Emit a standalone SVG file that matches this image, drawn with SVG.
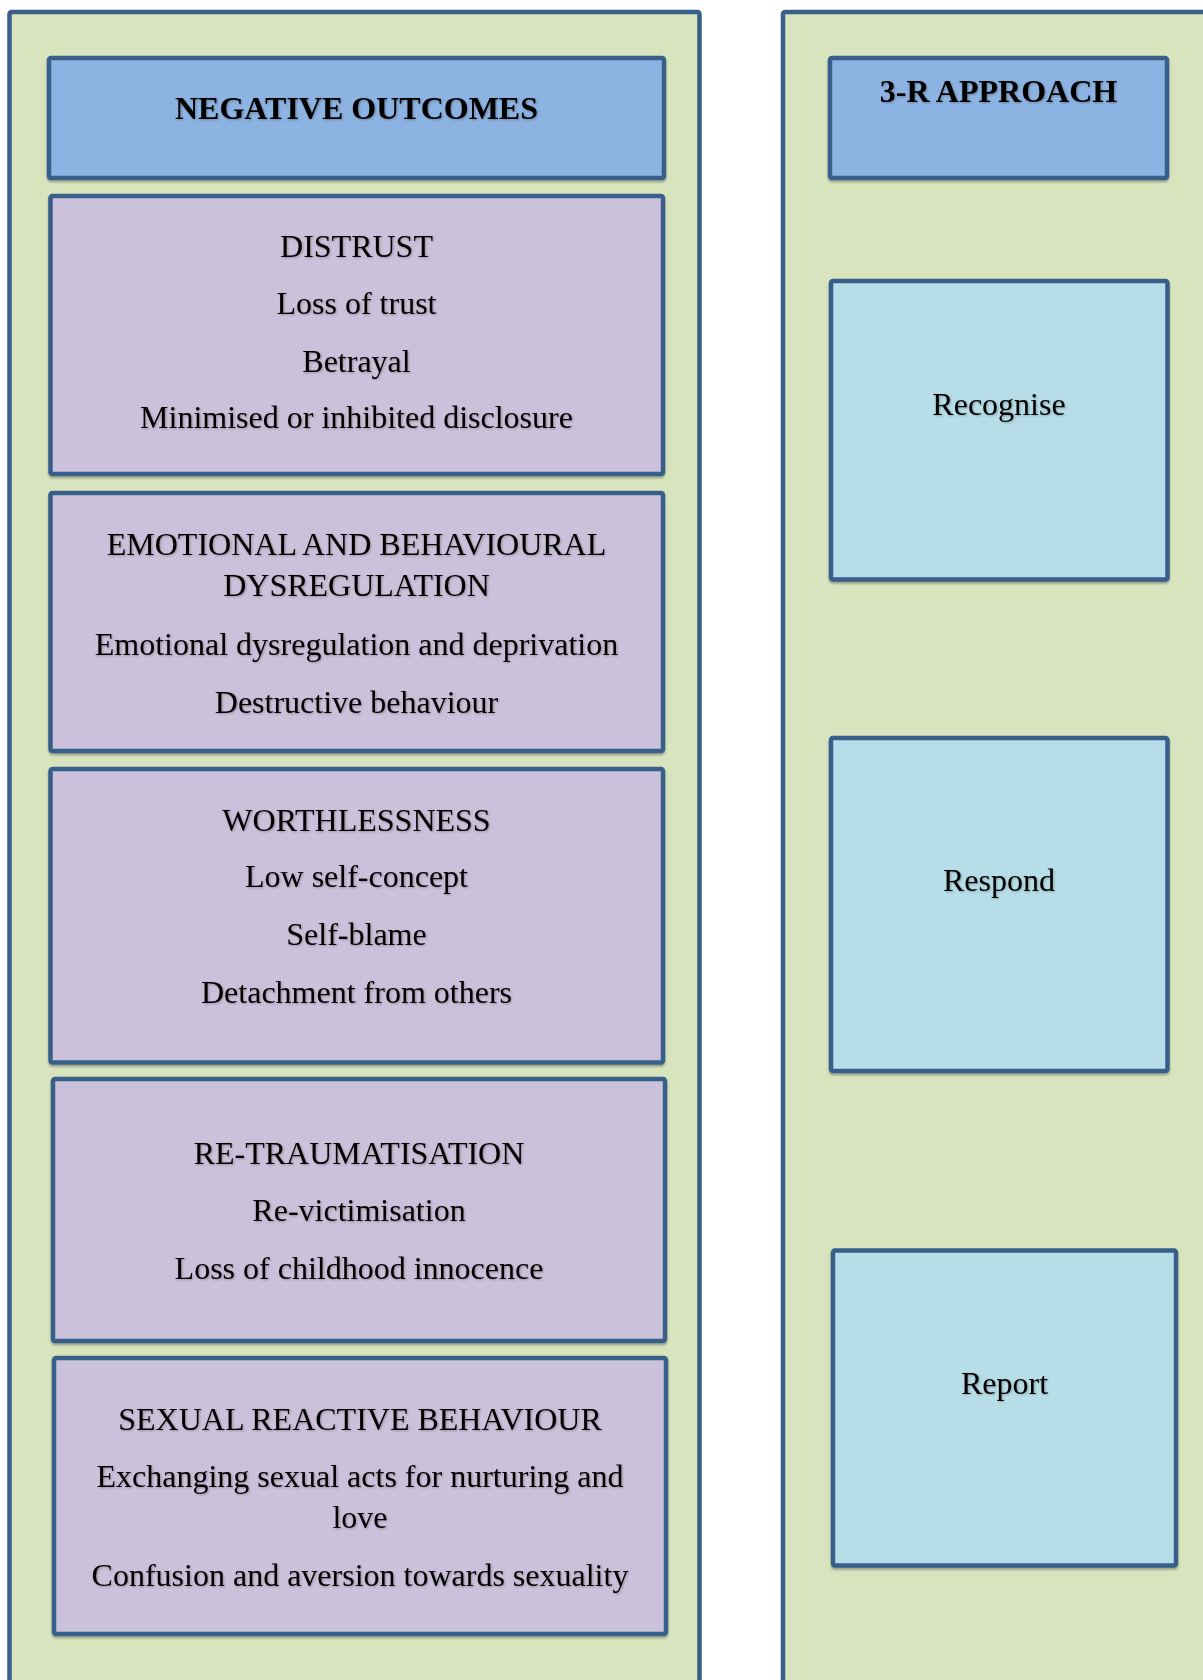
<svg xmlns="http://www.w3.org/2000/svg" width="1203" height="1680" viewBox="0 0 1203 1680">
  <defs>
    <filter id="boxShadow" x="-5%" y="-5%" width="110%" height="110%">
      <feDropShadow dx="0" dy="2" stdDeviation="1.2" flood-color="#000" flood-opacity="0.3"/>
    </filter>
    <filter id="textShadow" x="-5%" y="-20%" width="110%" height="140%">
      <feDropShadow dx="1" dy="1" stdDeviation="0.8" flood-color="#000" flood-opacity="0.28"/>
    </filter>
  </defs>
  <style>
    .panel { fill: #D7E4BD; stroke: #395E8A; stroke-width: 4.5; }
    .head { fill: #8DB3E2; stroke: #395E8A; stroke-width: 4.5; filter: url(#boxShadow); }
    .item { fill: #CCC1DA; stroke: #395E8A; stroke-width: 4.5; filter: url(#boxShadow); }
    .step { fill: #B7DEE8; stroke: #395E8A; stroke-width: 4.5; filter: url(#boxShadow); }
    text { font-family: "Liberation Serif", "Times New Roman", serif; font-size: 32px; fill: #000; text-anchor: middle; filter: url(#textShadow); }
    .title { font-weight: bold; }
  </style>

  <rect width="1203" height="1680" fill="#fff"/>

  <!-- background columns -->
  <g id="panel-left">
    <rect class="panel" x="9.5" y="12" width="690" height="1700" rx="2"/>
  </g>
  <g id="panel-right">
    <rect class="panel" x="783" y="12" width="500" height="1700" rx="2"/>
  </g>

  <!-- left column: outcomes -->
  <g id="negative-outcomes">
    <rect class="head" x="49" y="58" width="615" height="120" rx="2"/>
    <text class="title" x="356.5" y="119">NEGATIVE OUTCOMES</text>
  </g>

  <g id="distrust">
    <rect class="item" x="50.5" y="196" width="612.5" height="278" rx="2"/>
    <text x="356.5" y="257">DISTRUST</text>
    <text x="356.5" y="314">Loss of trust</text>
    <text x="356.5" y="372">Betrayal</text>
    <text x="356.5" y="428">Minimised or inhibited disclosure</text>
  </g>

  <g id="dysregulation">
    <rect class="item" x="50.5" y="493" width="612.5" height="258" rx="2"/>
    <text x="356.5" y="555">EMOTIONAL AND BEHAVIOURAL</text>
    <text x="356.5" y="596">DYSREGULATION</text>
    <text x="356.5" y="655">Emotional dysregulation and deprivation</text>
    <text x="356.5" y="713">Destructive behaviour</text>
  </g>

  <g id="worthlessness">
    <rect class="item" x="50.5" y="769" width="612.5" height="293.5" rx="2"/>
    <text x="356.5" y="831">WORTHLESSNESS</text>
    <text x="356.5" y="887">Low self-concept</text>
    <text x="356.5" y="945">Self-blame</text>
    <text x="356.5" y="1003">Detachment from others</text>
  </g>

  <g id="retraumatisation">
    <rect class="item" x="53" y="1079" width="612" height="262" rx="2"/>
    <text x="359" y="1164">RE-TRAUMATISATION</text>
    <text x="359" y="1221">Re-victimisation</text>
    <text x="359" y="1279">Loss of childhood innocence</text>
  </g>

  <g id="sexual-reactive">
    <rect class="item" x="54" y="1358" width="612" height="276" rx="2"/>
    <text x="360" y="1430">SEXUAL REACTIVE BEHAVIOUR</text>
    <text x="360" y="1487">Exchanging sexual acts for nurturing and</text>
    <text x="360" y="1528">love</text>
    <text x="360" y="1586">Confusion and aversion towards sexuality</text>
  </g>

  <!-- right column: 3-R approach -->
  <g id="approach">
    <rect class="head" x="830" y="58" width="337" height="120" rx="2"/>
    <text class="title" x="998.5" y="102">3-R APPROACH</text>
  </g>

  <g id="recognise">
    <rect class="step" x="831" y="281" width="336.5" height="298.5" rx="2"/>
    <text x="999" y="415">Recognise</text>
  </g>

  <g id="respond">
    <rect class="step" x="831" y="738" width="336.5" height="333" rx="2"/>
    <text x="999" y="891">Respond</text>
  </g>

  <g id="report">
    <rect class="step" x="833" y="1250.5" width="343" height="315" rx="2"/>
    <text x="1004.5" y="1394">Report</text>
  </g>

  <g id="connectors"></g>
</svg>
